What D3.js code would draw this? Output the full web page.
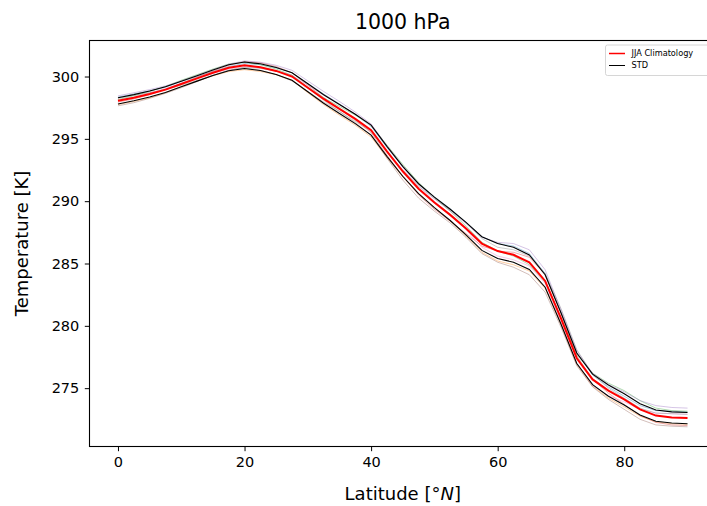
<!DOCTYPE html>
<html>
<head>
<meta charset="utf-8">
<script src="https://cdn.jsdelivr.net/npm/d3@7"></script>
<style>
  body { margin: 0; background: #fff; }
  svg { font-family: "DejaVu Sans", sans-serif; }
</style>
</head>
<body>
<svg id="chart" width="707" height="506"></svg>
<script>
// latitudes (2.5 degree grid)
const lats = d3.range(0, 90.01, 2.5);

// JJA climatology at 1000 hPa [K]
const climatology = [298.05, 298.3, 298.6, 298.95, 299.4, 299.85, 300.3, 300.7, 300.9, 300.75,
  300.45, 300.0, 299.1, 298.2, 297.4, 296.6, 295.7, 294.0, 292.4, 291.0,
  289.9, 288.9, 287.8, 286.6, 286.0, 285.7, 285.1, 283.6, 280.6, 277.4,
  275.7, 274.8, 274.1, 273.3, 272.8, 272.65, 272.6];

// standard deviation [K]
const stdev = [0.25, 0.25, 0.24, 0.23, 0.22, 0.22, 0.22, 0.24, 0.26, 0.27,
  0.28, 0.3, 0.32, 0.34, 0.36, 0.38, 0.4, 0.4, 0.4, 0.4,
  0.42, 0.45, 0.5, 0.55, 0.6, 0.6, 0.58, 0.5, 0.45, 0.42,
  0.42, 0.45, 0.45, 0.45, 0.45, 0.45, 0.45];

// individual summers, anomaly from climatology [K]
const year1 = [0.3, 0.3, 0.25, 0.2, 0.2, 0.15, 0.1, 0.1, 0.15, 0.2, 0.25, 0.3, 0.35, 0.4, 0.4, 0.35, 0.3, 0.3, 0.35, 0.4, 0.45, 0.5, 0.5, 0.55, 0.6, 0.7, 0.7, 0.6, 0.5, 0.4, 0.35, 0.3, 0.25, 0.3, 0.4, 0.5, 0.5];
const year2 = [-0.3, -0.3, -0.3, -0.25, -0.2, -0.2, -0.25, -0.3, -0.35, -0.35, -0.3, -0.3, -0.4, -0.45, -0.5, -0.5, -0.55, -0.5, -0.45, -0.4, -0.4, -0.5, -0.6, -0.7, -0.8, -0.8, -0.7, -0.6, -0.5, -0.5, -0.55, -0.6, -0.6, -0.55, -0.5, -0.5, -0.5];
const year3 = [0.1, 0.15, 0.2, 0.25, 0.3, 0.3, 0.3, 0.3, 0.25, 0.2, 0.15, 0.1, 0.05, 0.1, 0.2, 0.3, 0.4, 0.5, 0.55, 0.5, 0.4, 0.3, 0.2, 0.1, 0.0, -0.1, -0.2, -0.1, 0.1, 0.3, 0.5, 0.6, 0.7, 0.7, 0.6, 0.55, 0.55];
const year4 = [-0.1, -0.1, -0.05, 0.0, 0.05, 0.1, 0.15, 0.2, 0.3, 0.35, 0.35, 0.3, 0.2, 0.1, 0.0, -0.1, -0.2, -0.3, -0.4, -0.5, -0.55, -0.5, -0.4, -0.2, 0.0, 0.2, 0.4, 0.5, 0.4, 0.2, 0.0, -0.2, -0.4, -0.5, -0.55, -0.6, -0.6];
const year5 = [0.4, 0.4, 0.35, 0.3, 0.25, 0.25, 0.25, 0.3, 0.35, 0.4, 0.45, 0.5, 0.55, 0.6, 0.6, 0.55, 0.5, 0.45, 0.4, 0.35, 0.3, 0.3, 0.4, 0.5, 0.7, 0.9, 1.0, 0.9, 0.7, 0.6, 0.5, 0.5, 0.6, 0.7, 0.8, 0.8, 0.8];
const year6 = [-0.4, -0.4, -0.35, -0.3, -0.3, -0.25, -0.2, -0.2, -0.2, -0.25, -0.3, -0.35, -0.3, -0.25, -0.2, -0.3, -0.4, -0.55, -0.7, -0.75, -0.7, -0.65, -0.7, -0.8, -0.9, -1.0, -1.0, -0.9, -0.7, -0.6, -0.6, -0.7, -0.8, -0.8, -0.75, -0.7, -0.7];
const year7 = [0.0, 0.05, 0.1, 0.1, 0.05, 0.0, -0.05, -0.1, -0.1, -0.05, 0.0, 0.1, 0.2, 0.3, 0.35, 0.4, 0.45, 0.4, 0.3, 0.2, 0.1, 0.0, -0.1, -0.3, -0.4, -0.4, -0.3, -0.2, -0.3, -0.4, -0.5, -0.4, -0.2, 0.0, 0.2, 0.3, 0.3];
const year8 = [0.2, 0.2, 0.1, 0.0, -0.1, -0.15, -0.2, -0.2, -0.15, -0.1, 0.0, 0.1, 0.0, -0.1, -0.2, -0.2, -0.1, 0.0, 0.1, 0.2, 0.3, 0.4, 0.5, 0.4, 0.3, 0.4, 0.5, 0.6, 0.8, 0.7, 0.4, 0.2, 0.1, 0.1, 0.2, 0.3, 0.3];
const years = [year1, year2, year3, year4, year5, year6, year7, year8];

const xTicks = [0, 20, 40, 60, 80];
const yTicks = [275, 280, 285, 290, 295, 300];

const margin = { top: 40.5, left: 89.5, bottom: 446.5, right: 716 };

const x = d3.scaleLinear().domain([-4.5, 94.5]).range([margin.left, margin.right]);
const yMin = d3.min(climatology.map((c, i) => c - stdev[i])) - 0.35;
const yMax = d3.max(climatology.map((c, i) => c + stdev[i])) + 0.25;
const pad = (yMax - yMin) * 0.05;
const y = d3.scaleLinear().domain([yMin - pad, yMax + pad]).range([margin.bottom, margin.top]);

const svg = d3.select("#chart");
const line = d3.line().x((d, i) => x(lats[i])).y(d => y(d));

const colors = d3.schemeCategory10;

const plot = svg.append("g");

// faint lines for each summer
years.forEach((yr, k) => {
  plot.append("path")
    .attr("d", line(yr.map((a, i) => climatology[i] + a)))
    .attr("fill", "none")
    .attr("stroke", colors[k % 10])
    .attr("stroke-opacity", 0.38)
    .attr("stroke-width", 1);
});

// climatology +/- std
[1, -1].forEach(s => {
  plot.append("path")
    .attr("d", line(climatology.map((c, i) => c + s * stdev[i])))
    .attr("fill", "none")
    .attr("stroke", "#000")
    .attr("stroke-width", 1.1);
});

plot.append("path")
  .attr("d", line(climatology))
  .attr("fill", "none")
  .attr("stroke", "red")
  .attr("stroke-width", 2);

// axes
svg.append("g")
  .attr("transform", `translate(0,${margin.bottom})`)
  .call(d3.axisBottom(x).tickValues(xTicks).tickSize(4.7).tickPadding(6))
  .call(g => g.select(".domain").remove())
  .call(g => g.selectAll("text").attr("font-size", 14.5).attr("fill", "#000").attr("font-family", "DejaVu Sans"));

svg.append("g")
  .attr("transform", `translate(${margin.left},0)`)
  .call(d3.axisLeft(y).tickValues(yTicks).tickSize(4.7).tickPadding(5.5))
  .call(g => g.select(".domain").remove())
  .call(g => g.selectAll("text").attr("font-size", 14.5).attr("fill", "#000").attr("font-family", "DejaVu Sans"));

// frame
svg.append("rect")
  .attr("x", margin.left).attr("y", margin.top)
  .attr("width", margin.right - margin.left)
  .attr("height", margin.bottom - margin.top)
  .attr("fill", "none").attr("stroke", "#000").attr("stroke-width", 1.1);

// title and labels
svg.append("text")
  .attr("x", (margin.left + margin.right) / 2).attr("y", 29)
  .attr("text-anchor", "middle").attr("font-size", 20.5)
  .text("1000 hPa");

const xl = svg.append("text")
  .attr("x", (margin.left + margin.right) / 2).attr("y", 500)
  .attr("text-anchor", "middle").attr("font-size", 18);
xl.append("tspan").text("Latitude [°");
xl.append("tspan").attr("font-style", "italic").text("N");
xl.append("tspan").text("]");

svg.append("text")
  .attr("transform", `translate(28,${(margin.top + margin.bottom) / 2}) rotate(-90)`)
  .attr("text-anchor", "middle").attr("font-size", 18)
  .text("Temperature [K]");

// legend
const legend = svg.append("g");
legend.append("rect")
  .attr("x", 605.5).attr("y", 45).attr("width", 110).attr("height", 30.5)
  .attr("rx", 2).attr("fill", "#fff").attr("fill-opacity", 0.8)
  .attr("stroke", "#ccc").attr("stroke-width", 0.8);
const entries = [["JJA Climatology", "red", 1.5], ["STD", "#000", 1]];
entries.forEach(([label, col, w], i) => {
  const yy = 53.5 + i * 12;
  legend.append("line")
    .attr("x1", 609).attr("x2", 625).attr("y1", yy).attr("y2", yy)
    .attr("stroke", col).attr("stroke-width", w);
  legend.append("text")
    .attr("x", 631.5).attr("y", yy + 2.8)
    .attr("font-size", 8.2)
    .text(label);
});
</script>
</body>
</html>
